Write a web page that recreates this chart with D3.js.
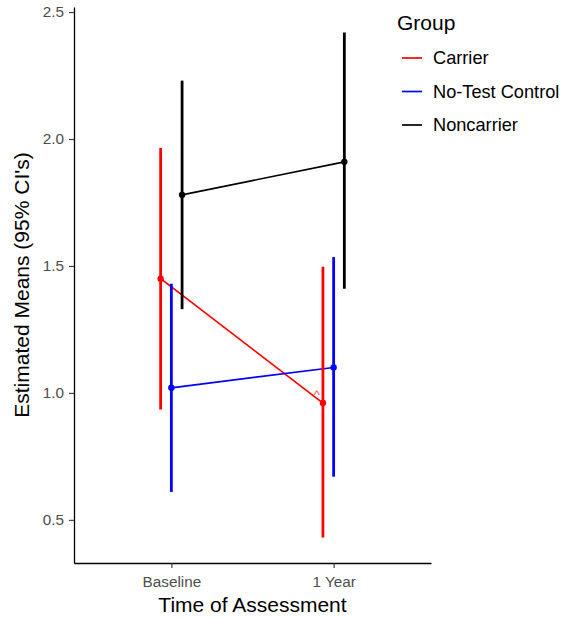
<!DOCTYPE html>
<html>
<head>
<meta charset="utf-8">
<script src="https://cdn.jsdelivr.net/npm/d3@7"></script>
<style>
  body { margin: 0; background: #fff; }
  text { font-family: "Liberation Sans", Arial, sans-serif; }
</style>
</head>
<body>
<div id="chart"></div>
<script>
let times = ["Baseline", "1 Year"];
let groups = ["Carrier", "No-Test Control", "Noncarrier"];
let colors = ["#ff0000", "#0000ff", "#000000"];
let means = [[1.45, 0.96], [1.02, 1.10], [1.78, 1.91]];
let lower = [[0.935, 0.43], [0.61, 0.67], [1.33, 1.41]];
let upper = [[1.965, 1.497], [1.43, 1.535], [2.23, 2.42]];
let yTicks = [0.5, 1.0, 1.5, 2.0, 2.5];
let note = { group: 0, time: 1, text: "^" };

let width = 574;
let height = 619;
let margin = ({ top: 7, right: 143, bottom: 56, left: 74 });

const svg = d3.select("#chart").append("svg")
    .attr("width", width)
    .attr("height", height);

let x = d3.scalePoint()
    .domain(times)
    .range([margin.left, width - margin.right])
    .padding(0.6);
let dodge = x.step() * 0.066;
let y = d3.scaleLinear()
    .domain([0.33, 2.52])
    .range([height - margin.bottom, margin.top]);

function gx(g, t) { return x(times[t]) + (g - 1) * dodge; }

// axes
svg.append("g")
    .attr("transform", `translate(${margin.left},0)`)
    .call(d3.axisLeft(y).tickValues(yTicks).tickFormat(d3.format(".1f")).tickSize(5).tickSizeOuter(0))
    .call(g => g.select(".domain").attr("stroke", "#000").attr("stroke-width", 1.3))
    .call(g => g.selectAll(".tick line").attr("stroke", "#333").attr("stroke-width", 1.1))
    .call(g => g.selectAll(".tick text").attr("fill", "#4d4d4d").attr("font-size", 15.3).attr("x", -10));

svg.append("g")
    .attr("transform", `translate(0,${height - margin.bottom})`)
    .call(d3.axisBottom(x).tickSize(5).tickSizeOuter(0))
    .call(g => g.select(".domain").attr("stroke", "#000").attr("stroke-width", 1.3))
    .call(g => g.selectAll(".tick line").attr("stroke", "#333").attr("stroke-width", 1.1))
    .call(g => g.selectAll(".tick text").attr("fill", "#4d4d4d").attr("font-size", 15.3).attr("dy", 0).attr("y", 24));

svg.append("text")
    .attr("x", (margin.left + width - margin.right) / 2)
    .attr("y", 612)
    .attr("text-anchor", "middle")
    .attr("font-size", 21)
    .attr("fill", "#000")
    .text("Time of Assessment");

svg.append("text")
    .attr("transform", `translate(29,${(margin.top + height - margin.bottom) / 2}) rotate(-90)`)
    .attr("text-anchor", "middle")
    .attr("font-size", 21)
    .attr("fill", "#000")
    .text("Estimated Means (95% CI's)");

// connecting lines
let line = d3.line().x(d => d[0]).y(d => d[1]);
groups.forEach((name, g) => {
    svg.append("path")
        .attr("d", line(times.map((t, i) => [gx(g, i), y(means[g][i])])))
        .attr("fill", "none")
        .attr("stroke", colors[g])
        .attr("stroke-width", 1.7);
});

// error bars and points
groups.forEach((name, g) => {
    times.forEach((t, i) => {
        svg.append("line")
            .attr("x1", gx(g, i)).attr("x2", gx(g, i))
            .attr("y1", y(lower[g][i])).attr("y2", y(upper[g][i]))
            .attr("stroke", colors[g])
            .attr("stroke-width", 2.8);
        svg.append("circle")
            .attr("cx", gx(g, i))
            .attr("cy", y(means[g][i]))
            .attr("r", 3.2)
            .attr("fill", colors[g]);
    });
});

svg.append("text")
    .attr("x", gx(note.group, note.time) - 6)
    .attr("y", y(means[note.group][note.time]) - 4)
    .attr("text-anchor", "middle")
    .attr("font-size", 13)
    .attr("fill", "#ff5555")
    .text(note.text);

// legend
let legend = svg.append("g").attr("transform", "translate(397,0)");
legend.append("text")
    .attr("x", 0).attr("y", 30)
    .attr("font-size", 21)
    .attr("fill", "#000")
    .text("Group");
groups.forEach((name, g) => {
    let ly = 58 + g * 33.5;
    legend.append("line")
        .attr("x1", 5).attr("x2", 25)
        .attr("y1", ly).attr("y2", ly)
        .attr("stroke", colors[g])
        .attr("stroke-width", 1.7);
    legend.append("text")
        .attr("x", 36).attr("y", ly + 6)
        .attr("font-size", 18.2)
        .attr("fill", "#000")
        .text(name);
});
</script>
</body>
</html>
